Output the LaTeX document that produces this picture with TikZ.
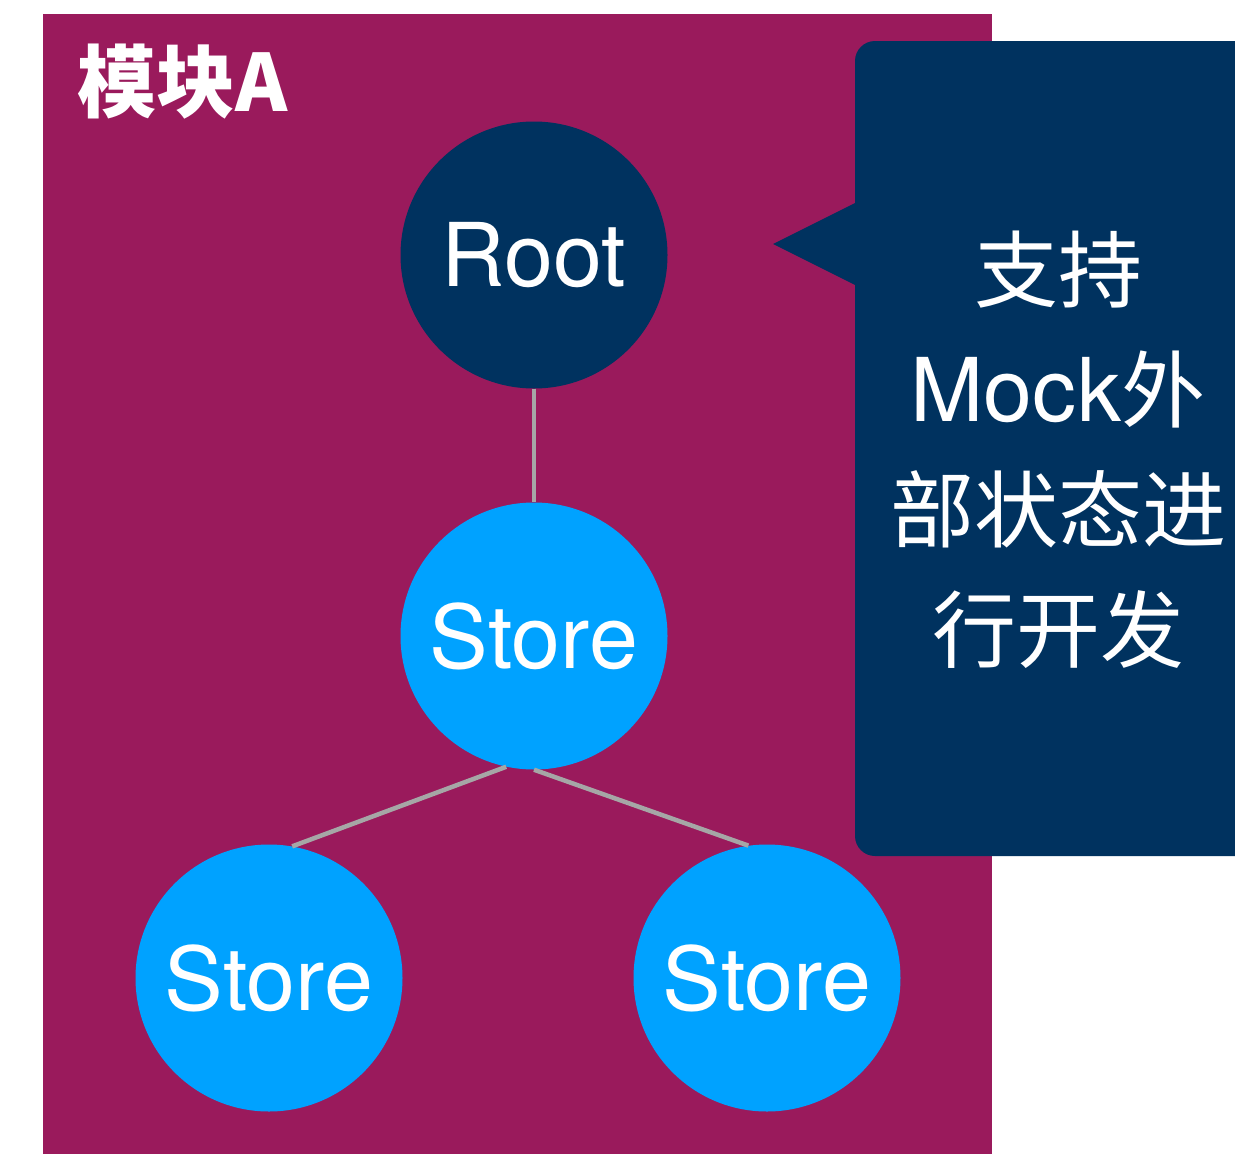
\documentclass[tikz,border=0pt]{standalone}
\usepackage{fontspec}
\setmainfont{TeX Gyre Heros}
\newfontfamily\cjk{Noto Sans CJK SC}
\definecolor{modpurple}{HTML}{9A1A5C}
\definecolor{navy}{HTML}{00325F}
\definecolor{storeblue}{HTML}{00A2FF}
\definecolor{edgegray}{HTML}{A6A6A6}
\tikzset{
  ball/.style={circle, minimum size=267pt, inner sep=0pt, text=white, font=\fontsize{88}{100}\selectfont},
  rootball/.style={ball, fill=navy},
  storeball/.style={ball, fill=storeblue},
  edge/.style={draw=edgegray, line width=4.5pt},
}
\begin{document}
\begin{tikzpicture}[x=1pt,y=-1pt]
\useasboundingbox (0,0) rectangle (1235,1154);
% module box
\fill[modpurple] (43,14) rectangle (992,1160);
\node[anchor=west, text=white, inner sep=0pt, font=\cjk\bfseries\fontsize{79}{80}\selectfont] (title) at (77,82) {模块A};
% callout
\fill[navy, rounded corners=20pt] (855,41) rectangle (1265,856);
\fill[navy] (855,203) -- (773,244) -- (855,285) -- cycle;
\node[text=white, align=center, inner sep=0pt, font=\fontsize{84}{120}\selectfont] (note) at (1058,450)
  {{\cjk 支持}\\{\fontsize{88}{120}\selectfont Mock}{\cjk 外}\\{\cjk 部状态进}\\{\cjk 行开发}};
% nodes
\node[rootball] (root) at (534,255) {Root};
\node[storeball] (mid) at (534,636) {Store};
\node[storeball] (left) at (269,978) {Store};
\node[storeball] (right) at (767,978) {Store};
% edges
\draw[edge] (root.south) -- (mid.north);
\draw[edge] (mid.258) -- (left.80);
\draw[edge] (mid.270) -- (right.98);
\end{tikzpicture}
\end{document}
